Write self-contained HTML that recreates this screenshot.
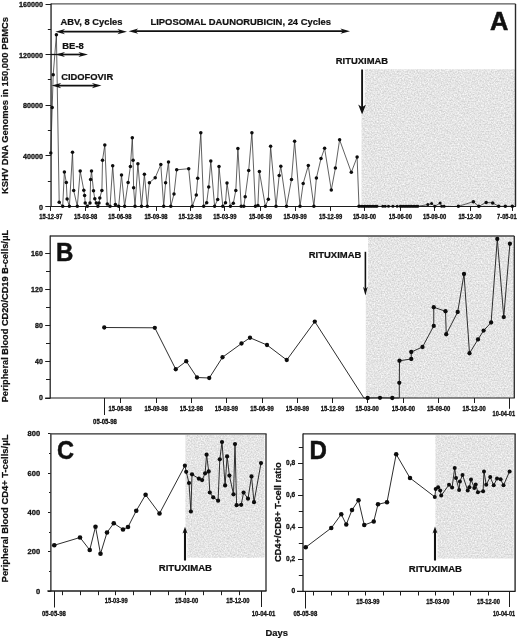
<!DOCTYPE html>
<html><head><meta charset="utf-8"><title>Figure</title>
<style>
html,body{margin:0;padding:0;background:#fff;}
body{width:520px;height:639px;overflow:hidden;font-family:"Liberation Sans",sans-serif;}
svg{display:block;font-family:"Liberation Sans",sans-serif;}
</style></head><body>
<svg style="will-change:transform" width="520" height="639" viewBox="0 0 520 639">
<defs>
<filter id="nz" x="0" y="0" width="1" height="1" color-interpolation-filters="sRGB">
<feTurbulence type="fractalNoise" baseFrequency="0.7" numOctaves="2" seed="7" result="t"/>
<feColorMatrix in="t" type="matrix" values="0.27 0 0 0 0.76  0.27 0 0 0 0.76  0.27 0 0 0 0.76  0 0 0 0 1" result="n"/>
<feComposite in="n" in2="SourceGraphic" operator="in"/>
</filter>
</defs>
<rect width="520" height="639" fill="#ffffff"/>
<rect x="361.50" y="69.20" width="154.00" height="137.25" fill="#e5e5e5" filter="url(#nz)"/>
<path d="M360.5 68.5 H364.7 V104.2 L366.4 104.6 L362.4 114.4 H360.5 Z" fill="#fff"/>
<line x1="51.05" y1="3.90" x2="515.50" y2="3.90" stroke="#585858" stroke-width="1.3"/>
<line x1="515.50" y1="3.90" x2="515.50" y2="206.45" stroke="#2a2a2a" stroke-width="1.4"/>
<line x1="51.05" y1="3.40" x2="51.05" y2="206.95" stroke="#1c1c1c" stroke-width="1.3"/>
<line x1="45.55" y1="206.50" x2="516.00" y2="206.50" stroke="#1c1c1c" stroke-width="1.05"/>
<line x1="45.55" y1="206.50" x2="51.05" y2="206.50" stroke="#1c1c1c" stroke-width="1.0"/>
<text x="42.90" y="209.55" font-size="7.2" font-weight="bold" text-anchor="end" fill="#111" stroke="#111" stroke-width="0.3" textLength="3.98" lengthAdjust="spacingAndGlyphs">0</text>
<line x1="47.85" y1="181.50" x2="51.05" y2="181.50" stroke="#1c1c1c" stroke-width="1.0"/>
<line x1="45.55" y1="155.50" x2="51.05" y2="155.50" stroke="#1c1c1c" stroke-width="1.0"/>
<text x="42.90" y="158.95" font-size="7.2" font-weight="bold" text-anchor="end" fill="#111" stroke="#111" stroke-width="0.3" textLength="19.90" lengthAdjust="spacingAndGlyphs">40000</text>
<line x1="47.85" y1="130.50" x2="51.05" y2="130.50" stroke="#1c1c1c" stroke-width="1.0"/>
<line x1="45.55" y1="105.50" x2="51.05" y2="105.50" stroke="#1c1c1c" stroke-width="1.0"/>
<text x="42.90" y="108.35" font-size="7.2" font-weight="bold" text-anchor="end" fill="#111" stroke="#111" stroke-width="0.3" textLength="19.90" lengthAdjust="spacingAndGlyphs">80000</text>
<line x1="47.85" y1="79.50" x2="51.05" y2="79.50" stroke="#1c1c1c" stroke-width="1.0"/>
<line x1="45.55" y1="54.50" x2="51.05" y2="54.50" stroke="#1c1c1c" stroke-width="1.0"/>
<text x="42.90" y="57.75" font-size="7.2" font-weight="bold" text-anchor="end" fill="#111" stroke="#111" stroke-width="0.3" textLength="23.88" lengthAdjust="spacingAndGlyphs">120000</text>
<line x1="47.85" y1="29.50" x2="51.05" y2="29.50" stroke="#1c1c1c" stroke-width="1.0"/>
<line x1="45.55" y1="4.50" x2="51.05" y2="4.50" stroke="#1c1c1c" stroke-width="1.0"/>
<text x="42.90" y="7.15" font-size="7.2" font-weight="bold" text-anchor="end" fill="#111" stroke="#111" stroke-width="0.3" textLength="23.88" lengthAdjust="spacingAndGlyphs">160000</text>
<line x1="50.50" y1="206.45" x2="50.50" y2="210.95" stroke="#1c1c1c" stroke-width="1.0"/>
<text x="50.80" y="218.80" font-size="6.8" font-weight="bold" text-anchor="middle" fill="#111" stroke="#111" stroke-width="0.3" textLength="23.20" lengthAdjust="spacingAndGlyphs">15-12-97</text>
<line x1="85.50" y1="206.45" x2="85.50" y2="210.95" stroke="#1c1c1c" stroke-width="1.0"/>
<text x="85.70" y="218.80" font-size="6.8" font-weight="bold" text-anchor="middle" fill="#111" stroke="#111" stroke-width="0.3" textLength="23.20" lengthAdjust="spacingAndGlyphs">15-03-98</text>
<line x1="119.50" y1="206.45" x2="119.50" y2="210.95" stroke="#1c1c1c" stroke-width="1.0"/>
<text x="119.90" y="218.80" font-size="6.8" font-weight="bold" text-anchor="middle" fill="#111" stroke="#111" stroke-width="0.3" textLength="23.20" lengthAdjust="spacingAndGlyphs">15-06-98</text>
<line x1="156.50" y1="206.45" x2="156.50" y2="210.95" stroke="#1c1c1c" stroke-width="1.0"/>
<text x="156.00" y="218.80" font-size="6.8" font-weight="bold" text-anchor="middle" fill="#111" stroke="#111" stroke-width="0.3" textLength="23.20" lengthAdjust="spacingAndGlyphs">15-09-98</text>
<line x1="190.50" y1="206.45" x2="190.50" y2="210.95" stroke="#1c1c1c" stroke-width="1.0"/>
<text x="190.20" y="218.80" font-size="6.8" font-weight="bold" text-anchor="middle" fill="#111" stroke="#111" stroke-width="0.3" textLength="23.20" lengthAdjust="spacingAndGlyphs">15-12-98</text>
<line x1="224.50" y1="206.45" x2="224.50" y2="210.95" stroke="#1c1c1c" stroke-width="1.0"/>
<text x="224.90" y="218.80" font-size="6.8" font-weight="bold" text-anchor="middle" fill="#111" stroke="#111" stroke-width="0.3" textLength="23.20" lengthAdjust="spacingAndGlyphs">15-03-99</text>
<line x1="260.50" y1="206.45" x2="260.50" y2="210.95" stroke="#1c1c1c" stroke-width="1.0"/>
<text x="260.50" y="218.80" font-size="6.8" font-weight="bold" text-anchor="middle" fill="#111" stroke="#111" stroke-width="0.3" textLength="23.20" lengthAdjust="spacingAndGlyphs">15-06-99</text>
<line x1="295.50" y1="206.45" x2="295.50" y2="210.95" stroke="#1c1c1c" stroke-width="1.0"/>
<text x="295.20" y="218.80" font-size="6.8" font-weight="bold" text-anchor="middle" fill="#111" stroke="#111" stroke-width="0.3" textLength="23.20" lengthAdjust="spacingAndGlyphs">15-09-99</text>
<line x1="330.50" y1="206.45" x2="330.50" y2="210.95" stroke="#1c1c1c" stroke-width="1.0"/>
<text x="330.60" y="218.80" font-size="6.8" font-weight="bold" text-anchor="middle" fill="#111" stroke="#111" stroke-width="0.3" textLength="23.20" lengthAdjust="spacingAndGlyphs">15-12-99</text>
<line x1="364.50" y1="206.45" x2="364.50" y2="210.95" stroke="#1c1c1c" stroke-width="1.0"/>
<text x="364.50" y="218.80" font-size="6.8" font-weight="bold" text-anchor="middle" fill="#111" stroke="#111" stroke-width="0.3" textLength="23.20" lengthAdjust="spacingAndGlyphs">15-03-00</text>
<line x1="400.50" y1="206.45" x2="400.50" y2="210.95" stroke="#1c1c1c" stroke-width="1.0"/>
<text x="400.40" y="218.80" font-size="6.8" font-weight="bold" text-anchor="middle" fill="#111" stroke="#111" stroke-width="0.3" textLength="23.20" lengthAdjust="spacingAndGlyphs">15-06-00</text>
<line x1="434.50" y1="206.45" x2="434.50" y2="210.95" stroke="#1c1c1c" stroke-width="1.0"/>
<text x="434.60" y="218.80" font-size="6.8" font-weight="bold" text-anchor="middle" fill="#111" stroke="#111" stroke-width="0.3" textLength="23.20" lengthAdjust="spacingAndGlyphs">15-09-00</text>
<line x1="470.50" y1="206.45" x2="470.50" y2="210.95" stroke="#1c1c1c" stroke-width="1.0"/>
<text x="470.00" y="218.80" font-size="6.8" font-weight="bold" text-anchor="middle" fill="#111" stroke="#111" stroke-width="0.3" textLength="23.20" lengthAdjust="spacingAndGlyphs">15-12-00</text>
<line x1="512.50" y1="206.45" x2="512.50" y2="210.95" stroke="#1c1c1c" stroke-width="1.0"/>
<text x="506.90" y="218.80" font-size="6.8" font-weight="bold" text-anchor="middle" fill="#111" stroke="#111" stroke-width="0.3" textLength="19.60" lengthAdjust="spacingAndGlyphs">7-05-01</text>
<polyline points="50.80,152.90 52.20,107.50 53.20,74.80 56.40,34.80 59.20,202.30 62.70,206.35 64.40,171.90 66.30,182.50 67.10,199.00 69.40,206.35 72.50,152.30 73.70,190.60 77.30,206.35 80.20,171.00 83.80,190.20 84.60,195.40 85.20,203.00 87.30,206.35 90.00,203.00 90.60,179.40 91.50,171.00 93.50,190.80 94.80,198.80 96.30,203.00 97.90,206.35 99.00,203.00 99.80,197.90 101.90,190.40 102.50,160.20 104.80,145.00 107.30,204.00 110.00,206.35 112.70,165.80 115.40,204.60 118.70,206.35 121.50,175.00 124.60,206.35 128.10,182.50 130.40,166.50 132.30,137.80 133.10,160.30 133.60,187.70 135.00,206.35 137.90,163.80 141.50,206.35 144.40,174.20 147.30,206.35 149.40,182.70 155.20,177.70 160.80,164.60 163.70,206.35 165.60,182.70 168.50,161.90 170.80,206.35 174.00,194.00 176.70,169.80 188.70,168.70 192.30,206.35 196.30,195.00 197.70,178.30 200.80,132.70 203.70,206.35 206.70,202.70 208.70,186.90 210.80,161.00 214.60,206.35 217.70,199.40 219.00,166.50 222.80,206.35 225.50,202.70 227.00,183.00 230.40,206.35 233.30,203.30 235.80,190.40 237.90,148.50 241.20,206.35 243.80,206.35 245.20,196.70 248.70,170.40 251.90,132.70 255.40,206.35 257.90,205.40 259.40,171.50 265.40,206.35 268.30,199.20 270.60,146.30 276.00,206.35 279.20,175.40 280.80,166.30 286.50,206.35 291.50,179.40 294.60,141.30 300.00,206.35 303.20,183.40 308.30,165.60 313.90,206.35 316.40,178.00 321.00,158.50 324.60,148.30 331.30,190.00 335.40,168.10 339.60,139.80 351.30,172.30 357.10,157.10 359.00,206.35 361.20,206.35 362.80,206.35 364.40,206.35 366.00,206.35 367.60,206.35 369.20,206.35 370.80,206.35 372.40,206.35 374.00,206.35 375.60,206.35 377.00,206.35 382.80,206.35 385.20,206.35 388.50,206.35 392.90,206.35 397.20,206.35 400.30,206.35 401.90,206.35 403.50,206.35 405.10,206.35 406.70,206.35 408.30,206.35 409.90,206.35 411.50,206.35 413.10,206.35 414.70,206.35 416.30,206.35 417.80,206.35 427.80,204.60 431.60,203.50 434.80,206.35 440.10,203.00 441.70,206.35 444.10,206.35" fill="none" stroke="#2e2e2e" stroke-width="0.75" stroke-linejoin="round"/>
<polyline points="458.40,206.35 473.40,201.70 478.80,206.35 486.20,202.40 492.70,202.90 498.70,206.35 505.30,206.35 512.30,206.35" fill="none" stroke="#2e2e2e" stroke-width="0.75" stroke-linejoin="round"/>
<circle cx="50.80" cy="152.90" r="1.75" fill="#0d0d0d"/>
<circle cx="52.20" cy="107.50" r="1.75" fill="#0d0d0d"/>
<circle cx="53.20" cy="74.80" r="1.75" fill="#0d0d0d"/>
<circle cx="56.40" cy="34.80" r="1.75" fill="#0d0d0d"/>
<circle cx="59.20" cy="202.30" r="1.75" fill="#0d0d0d"/>
<circle cx="62.70" cy="206.35" r="1.75" fill="#0d0d0d"/>
<circle cx="64.40" cy="171.90" r="1.75" fill="#0d0d0d"/>
<circle cx="66.30" cy="182.50" r="1.75" fill="#0d0d0d"/>
<circle cx="67.10" cy="199.00" r="1.75" fill="#0d0d0d"/>
<circle cx="69.40" cy="206.35" r="1.75" fill="#0d0d0d"/>
<circle cx="72.50" cy="152.30" r="1.75" fill="#0d0d0d"/>
<circle cx="73.70" cy="190.60" r="1.75" fill="#0d0d0d"/>
<circle cx="77.30" cy="206.35" r="1.75" fill="#0d0d0d"/>
<circle cx="80.20" cy="171.00" r="1.75" fill="#0d0d0d"/>
<circle cx="83.80" cy="190.20" r="1.75" fill="#0d0d0d"/>
<circle cx="84.60" cy="195.40" r="1.75" fill="#0d0d0d"/>
<circle cx="85.20" cy="203.00" r="1.75" fill="#0d0d0d"/>
<circle cx="87.30" cy="206.35" r="1.75" fill="#0d0d0d"/>
<circle cx="90.00" cy="203.00" r="1.75" fill="#0d0d0d"/>
<circle cx="90.60" cy="179.40" r="1.75" fill="#0d0d0d"/>
<circle cx="91.50" cy="171.00" r="1.75" fill="#0d0d0d"/>
<circle cx="93.50" cy="190.80" r="1.75" fill="#0d0d0d"/>
<circle cx="94.80" cy="198.80" r="1.75" fill="#0d0d0d"/>
<circle cx="96.30" cy="203.00" r="1.75" fill="#0d0d0d"/>
<circle cx="97.90" cy="206.35" r="1.75" fill="#0d0d0d"/>
<circle cx="99.00" cy="203.00" r="1.75" fill="#0d0d0d"/>
<circle cx="99.80" cy="197.90" r="1.75" fill="#0d0d0d"/>
<circle cx="101.90" cy="190.40" r="1.75" fill="#0d0d0d"/>
<circle cx="102.50" cy="160.20" r="1.75" fill="#0d0d0d"/>
<circle cx="104.80" cy="145.00" r="1.75" fill="#0d0d0d"/>
<circle cx="107.30" cy="204.00" r="1.75" fill="#0d0d0d"/>
<circle cx="110.00" cy="206.35" r="1.75" fill="#0d0d0d"/>
<circle cx="112.70" cy="165.80" r="1.75" fill="#0d0d0d"/>
<circle cx="115.40" cy="204.60" r="1.75" fill="#0d0d0d"/>
<circle cx="118.70" cy="206.35" r="1.75" fill="#0d0d0d"/>
<circle cx="121.50" cy="175.00" r="1.75" fill="#0d0d0d"/>
<circle cx="124.60" cy="206.35" r="1.75" fill="#0d0d0d"/>
<circle cx="128.10" cy="182.50" r="1.75" fill="#0d0d0d"/>
<circle cx="130.40" cy="166.50" r="1.75" fill="#0d0d0d"/>
<circle cx="132.30" cy="137.80" r="1.75" fill="#0d0d0d"/>
<circle cx="133.10" cy="160.30" r="1.75" fill="#0d0d0d"/>
<circle cx="133.60" cy="187.70" r="1.75" fill="#0d0d0d"/>
<circle cx="135.00" cy="206.35" r="1.75" fill="#0d0d0d"/>
<circle cx="137.90" cy="163.80" r="1.75" fill="#0d0d0d"/>
<circle cx="141.50" cy="206.35" r="1.75" fill="#0d0d0d"/>
<circle cx="144.40" cy="174.20" r="1.75" fill="#0d0d0d"/>
<circle cx="147.30" cy="206.35" r="1.75" fill="#0d0d0d"/>
<circle cx="149.40" cy="182.70" r="1.75" fill="#0d0d0d"/>
<circle cx="155.20" cy="177.70" r="1.75" fill="#0d0d0d"/>
<circle cx="160.80" cy="164.60" r="1.75" fill="#0d0d0d"/>
<circle cx="163.70" cy="206.35" r="1.75" fill="#0d0d0d"/>
<circle cx="165.60" cy="182.70" r="1.75" fill="#0d0d0d"/>
<circle cx="168.50" cy="161.90" r="1.75" fill="#0d0d0d"/>
<circle cx="170.80" cy="206.35" r="1.75" fill="#0d0d0d"/>
<circle cx="174.00" cy="194.00" r="1.75" fill="#0d0d0d"/>
<circle cx="176.70" cy="169.80" r="1.75" fill="#0d0d0d"/>
<circle cx="188.70" cy="168.70" r="1.75" fill="#0d0d0d"/>
<circle cx="192.30" cy="206.35" r="1.75" fill="#0d0d0d"/>
<circle cx="196.30" cy="195.00" r="1.75" fill="#0d0d0d"/>
<circle cx="197.70" cy="178.30" r="1.75" fill="#0d0d0d"/>
<circle cx="200.80" cy="132.70" r="1.75" fill="#0d0d0d"/>
<circle cx="203.70" cy="206.35" r="1.75" fill="#0d0d0d"/>
<circle cx="206.70" cy="202.70" r="1.75" fill="#0d0d0d"/>
<circle cx="208.70" cy="186.90" r="1.75" fill="#0d0d0d"/>
<circle cx="210.80" cy="161.00" r="1.75" fill="#0d0d0d"/>
<circle cx="214.60" cy="206.35" r="1.75" fill="#0d0d0d"/>
<circle cx="217.70" cy="199.40" r="1.75" fill="#0d0d0d"/>
<circle cx="219.00" cy="166.50" r="1.75" fill="#0d0d0d"/>
<circle cx="222.80" cy="206.35" r="1.75" fill="#0d0d0d"/>
<circle cx="225.50" cy="202.70" r="1.75" fill="#0d0d0d"/>
<circle cx="227.00" cy="183.00" r="1.75" fill="#0d0d0d"/>
<circle cx="230.40" cy="206.35" r="1.75" fill="#0d0d0d"/>
<circle cx="233.30" cy="203.30" r="1.75" fill="#0d0d0d"/>
<circle cx="235.80" cy="190.40" r="1.75" fill="#0d0d0d"/>
<circle cx="237.90" cy="148.50" r="1.75" fill="#0d0d0d"/>
<circle cx="241.20" cy="206.35" r="1.75" fill="#0d0d0d"/>
<circle cx="243.80" cy="206.35" r="1.75" fill="#0d0d0d"/>
<circle cx="245.20" cy="196.70" r="1.75" fill="#0d0d0d"/>
<circle cx="248.70" cy="170.40" r="1.75" fill="#0d0d0d"/>
<circle cx="251.90" cy="132.70" r="1.75" fill="#0d0d0d"/>
<circle cx="255.40" cy="206.35" r="1.75" fill="#0d0d0d"/>
<circle cx="257.90" cy="205.40" r="1.75" fill="#0d0d0d"/>
<circle cx="259.40" cy="171.50" r="1.75" fill="#0d0d0d"/>
<circle cx="265.40" cy="206.35" r="1.75" fill="#0d0d0d"/>
<circle cx="268.30" cy="199.20" r="1.75" fill="#0d0d0d"/>
<circle cx="270.60" cy="146.30" r="1.75" fill="#0d0d0d"/>
<circle cx="276.00" cy="206.35" r="1.75" fill="#0d0d0d"/>
<circle cx="279.20" cy="175.40" r="1.75" fill="#0d0d0d"/>
<circle cx="280.80" cy="166.30" r="1.75" fill="#0d0d0d"/>
<circle cx="286.50" cy="206.35" r="1.75" fill="#0d0d0d"/>
<circle cx="291.50" cy="179.40" r="1.75" fill="#0d0d0d"/>
<circle cx="294.60" cy="141.30" r="1.75" fill="#0d0d0d"/>
<circle cx="300.00" cy="206.35" r="1.75" fill="#0d0d0d"/>
<circle cx="303.20" cy="183.40" r="1.75" fill="#0d0d0d"/>
<circle cx="308.30" cy="165.60" r="1.75" fill="#0d0d0d"/>
<circle cx="313.90" cy="206.35" r="1.75" fill="#0d0d0d"/>
<circle cx="316.40" cy="178.00" r="1.75" fill="#0d0d0d"/>
<circle cx="321.00" cy="158.50" r="1.75" fill="#0d0d0d"/>
<circle cx="324.60" cy="148.30" r="1.75" fill="#0d0d0d"/>
<circle cx="331.30" cy="190.00" r="1.75" fill="#0d0d0d"/>
<circle cx="335.40" cy="168.10" r="1.75" fill="#0d0d0d"/>
<circle cx="339.60" cy="139.80" r="1.75" fill="#0d0d0d"/>
<circle cx="351.30" cy="172.30" r="1.75" fill="#0d0d0d"/>
<circle cx="357.10" cy="157.10" r="1.75" fill="#0d0d0d"/>
<circle cx="359.00" cy="206.35" r="1.75" fill="#0d0d0d"/>
<circle cx="361.20" cy="206.35" r="1.5" fill="#0d0d0d"/>
<circle cx="362.80" cy="206.35" r="1.5" fill="#0d0d0d"/>
<circle cx="364.40" cy="206.35" r="1.5" fill="#0d0d0d"/>
<circle cx="366.00" cy="206.35" r="1.5" fill="#0d0d0d"/>
<circle cx="367.60" cy="206.35" r="1.5" fill="#0d0d0d"/>
<circle cx="369.20" cy="206.35" r="1.5" fill="#0d0d0d"/>
<circle cx="370.80" cy="206.35" r="1.5" fill="#0d0d0d"/>
<circle cx="372.40" cy="206.35" r="1.5" fill="#0d0d0d"/>
<circle cx="374.00" cy="206.35" r="1.5" fill="#0d0d0d"/>
<circle cx="375.60" cy="206.35" r="1.5" fill="#0d0d0d"/>
<circle cx="377.00" cy="206.35" r="1.5" fill="#0d0d0d"/>
<circle cx="382.80" cy="206.35" r="1.5" fill="#0d0d0d"/>
<circle cx="385.20" cy="206.35" r="1.5" fill="#0d0d0d"/>
<circle cx="388.50" cy="206.35" r="1.5" fill="#0d0d0d"/>
<circle cx="392.90" cy="206.35" r="1.5" fill="#0d0d0d"/>
<circle cx="397.20" cy="206.35" r="1.5" fill="#0d0d0d"/>
<circle cx="400.30" cy="206.35" r="1.5" fill="#0d0d0d"/>
<circle cx="401.90" cy="206.35" r="1.5" fill="#0d0d0d"/>
<circle cx="403.50" cy="206.35" r="1.5" fill="#0d0d0d"/>
<circle cx="405.10" cy="206.35" r="1.5" fill="#0d0d0d"/>
<circle cx="406.70" cy="206.35" r="1.5" fill="#0d0d0d"/>
<circle cx="408.30" cy="206.35" r="1.5" fill="#0d0d0d"/>
<circle cx="409.90" cy="206.35" r="1.5" fill="#0d0d0d"/>
<circle cx="411.50" cy="206.35" r="1.5" fill="#0d0d0d"/>
<circle cx="413.10" cy="206.35" r="1.5" fill="#0d0d0d"/>
<circle cx="414.70" cy="206.35" r="1.5" fill="#0d0d0d"/>
<circle cx="416.30" cy="206.35" r="1.5" fill="#0d0d0d"/>
<circle cx="417.80" cy="206.35" r="1.5" fill="#0d0d0d"/>
<circle cx="427.80" cy="204.60" r="1.5" fill="#0d0d0d"/>
<circle cx="431.60" cy="203.50" r="1.5" fill="#0d0d0d"/>
<circle cx="434.80" cy="206.35" r="1.5" fill="#0d0d0d"/>
<circle cx="440.10" cy="203.00" r="1.5" fill="#0d0d0d"/>
<circle cx="441.70" cy="206.35" r="1.5" fill="#0d0d0d"/>
<circle cx="444.10" cy="206.35" r="1.5" fill="#0d0d0d"/>
<circle cx="458.40" cy="206.35" r="1.75" fill="#0d0d0d"/>
<circle cx="473.40" cy="201.70" r="1.75" fill="#0d0d0d"/>
<circle cx="478.80" cy="206.35" r="1.75" fill="#0d0d0d"/>
<circle cx="486.20" cy="202.40" r="1.75" fill="#0d0d0d"/>
<circle cx="492.70" cy="202.90" r="1.75" fill="#0d0d0d"/>
<circle cx="498.70" cy="206.35" r="1.75" fill="#0d0d0d"/>
<circle cx="505.30" cy="206.35" r="1.75" fill="#0d0d0d"/>
<circle cx="512.30" cy="206.35" r="1.75" fill="#0d0d0d"/>
<text x="60.40" y="24.70" font-size="9.4" font-weight="bold" text-anchor="start" fill="#111" stroke="#111" stroke-width="0.22" textLength="62.00" lengthAdjust="spacingAndGlyphs">ABV, 8 Cycles</text>
<line x1="61.16" y1="31.70" x2="121.24" y2="31.70" stroke="#111" stroke-width="1.7"/>
<path d="M55.40 31.70 L65.00 29.10 L62.31 31.70 L65.00 34.30 Z" fill="#111"/>
<path d="M127.00 31.70 L117.40 29.10 L120.09 31.70 L117.40 34.30 Z" fill="#111"/>
<text x="62.30" y="49.40" font-size="9.4" font-weight="bold" text-anchor="start" fill="#111" stroke="#111" stroke-width="0.22" textLength="21.50" lengthAdjust="spacingAndGlyphs">BE-8</text>
<line x1="61.16" y1="54.50" x2="82.24" y2="54.50" stroke="#111" stroke-width="1.7"/>
<path d="M55.40 54.50 L65.00 51.90 L62.31 54.50 L65.00 57.10 Z" fill="#111"/>
<path d="M88.00 54.50 L78.40 51.90 L81.09 54.50 L78.40 57.10 Z" fill="#111"/>
<line x1="50.80" y1="54.50" x2="60.00" y2="54.50" stroke="#111" stroke-width="1.3"/>
<text x="61.20" y="80.30" font-size="9.4" font-weight="bold" text-anchor="start" fill="#111" stroke="#111" stroke-width="0.22" textLength="52.00" lengthAdjust="spacingAndGlyphs">CIDOFOVIR</text>
<line x1="57.36" y1="85.60" x2="95.74" y2="85.60" stroke="#111" stroke-width="1.7"/>
<path d="M51.60 85.60 L61.20 83.00 L58.51 85.60 L61.20 88.20 Z" fill="#111"/>
<path d="M101.50 85.60 L91.90 83.00 L94.59 85.60 L91.90 88.20 Z" fill="#111"/>
<line x1="134.36" y1="31.20" x2="344.24" y2="31.20" stroke="#111" stroke-width="1.7"/>
<path d="M128.60 31.20 L138.20 28.60 L135.51 31.20 L138.20 33.80 Z" fill="#111"/>
<path d="M350.00 31.20 L340.40 28.60 L343.09 31.20 L340.40 33.80 Z" fill="#111"/>
<text x="150.50" y="24.60" font-size="9.4" font-weight="bold" text-anchor="start" fill="#111" stroke="#111" stroke-width="0.22" textLength="180.50" lengthAdjust="spacingAndGlyphs">LIPOSOMAL DAUNORUBICIN, 24 Cycles</text>
<text x="335.80" y="64.40" font-size="9.4" font-weight="bold" text-anchor="start" fill="#111" stroke="#111" stroke-width="0.22" textLength="52.30" lengthAdjust="spacingAndGlyphs">RITUXIMAB</text>
<line x1="362.10" y1="69.50" x2="362.10" y2="108.46" stroke="#111" stroke-width="1.9"/>
<path d="M362.10 114.40 L358.20 104.50 L362.10 107.27 L366.00 104.50 Z" fill="#111"/>
<text x="499.10" y="29.50" font-size="25.0" font-weight="bold" text-anchor="middle" fill="#111" stroke="#111" stroke-width="0.5" textLength="18.40" lengthAdjust="spacingAndGlyphs">A</text>
<text x="8.00" y="105.50" font-size="9.3" font-weight="bold" text-anchor="middle" fill="#111" stroke="#111" stroke-width="0.22" textLength="177.00" lengthAdjust="spacingAndGlyphs" transform="rotate(-90 8.00 105.50)">KSHV DNA Genomes in 150,000 PBMCs</text>
<rect x="365.80" y="236.00" width="148.50" height="162.00" fill="#e5e5e5" filter="url(#nz)"/>
<path d="M364.5 236.8 H368.1 V287.0 L365.6 296.0 H364.5 Z" fill="#fff"/>
<line x1="50.20" y1="236.00" x2="514.30" y2="236.00" stroke="#444" stroke-width="1.3"/>
<line x1="514.30" y1="236.00" x2="514.30" y2="398.00" stroke="#2a2a2a" stroke-width="1.3"/>
<line x1="50.20" y1="235.50" x2="50.20" y2="398.50" stroke="#1c1c1c" stroke-width="1.25"/>
<line x1="45.20" y1="398.00" x2="514.80" y2="398.00" stroke="#1c1c1c" stroke-width="1.15"/>
<line x1="45.20" y1="398.50" x2="50.20" y2="398.50" stroke="#1c1c1c" stroke-width="1.0"/>
<text x="42.80" y="400.10" font-size="7.2" font-weight="bold" text-anchor="end" fill="#111" stroke="#111" stroke-width="0.3" textLength="3.90" lengthAdjust="spacingAndGlyphs">0</text>
<line x1="46.00" y1="379.50" x2="50.20" y2="379.50" stroke="#1c1c1c" stroke-width="1.0"/>
<line x1="45.20" y1="361.50" x2="50.20" y2="361.50" stroke="#1c1c1c" stroke-width="1.0"/>
<text x="42.80" y="364.04" font-size="7.2" font-weight="bold" text-anchor="end" fill="#111" stroke="#111" stroke-width="0.3" textLength="7.80" lengthAdjust="spacingAndGlyphs">40</text>
<line x1="46.00" y1="343.50" x2="50.20" y2="343.50" stroke="#1c1c1c" stroke-width="1.0"/>
<line x1="45.20" y1="325.50" x2="50.20" y2="325.50" stroke="#1c1c1c" stroke-width="1.0"/>
<text x="42.80" y="327.98" font-size="7.2" font-weight="bold" text-anchor="end" fill="#111" stroke="#111" stroke-width="0.3" textLength="7.80" lengthAdjust="spacingAndGlyphs">80</text>
<line x1="46.00" y1="307.50" x2="50.20" y2="307.50" stroke="#1c1c1c" stroke-width="1.0"/>
<line x1="45.20" y1="289.50" x2="50.20" y2="289.50" stroke="#1c1c1c" stroke-width="1.0"/>
<text x="42.80" y="291.92" font-size="7.2" font-weight="bold" text-anchor="end" fill="#111" stroke="#111" stroke-width="0.3" textLength="11.70" lengthAdjust="spacingAndGlyphs">120</text>
<line x1="46.00" y1="271.50" x2="50.20" y2="271.50" stroke="#1c1c1c" stroke-width="1.0"/>
<line x1="45.20" y1="253.50" x2="50.20" y2="253.50" stroke="#1c1c1c" stroke-width="1.0"/>
<text x="42.80" y="255.86" font-size="7.2" font-weight="bold" text-anchor="end" fill="#111" stroke="#111" stroke-width="0.3" textLength="11.70" lengthAdjust="spacingAndGlyphs">160</text>
<line x1="120.50" y1="398.00" x2="120.50" y2="403.00" stroke="#1c1c1c" stroke-width="1.0"/>
<text x="120.20" y="411.20" font-size="6.8" font-weight="bold" text-anchor="middle" fill="#111" stroke="#111" stroke-width="0.3" textLength="23.30" lengthAdjust="spacingAndGlyphs">15-06-98</text>
<line x1="156.50" y1="398.00" x2="156.50" y2="403.00" stroke="#1c1c1c" stroke-width="1.0"/>
<text x="156.20" y="411.20" font-size="6.8" font-weight="bold" text-anchor="middle" fill="#111" stroke="#111" stroke-width="0.3" textLength="23.30" lengthAdjust="spacingAndGlyphs">15-09-98</text>
<line x1="191.50" y1="398.00" x2="191.50" y2="403.00" stroke="#1c1c1c" stroke-width="1.0"/>
<text x="191.30" y="411.20" font-size="6.8" font-weight="bold" text-anchor="middle" fill="#111" stroke="#111" stroke-width="0.3" textLength="23.30" lengthAdjust="spacingAndGlyphs">15-12-98</text>
<line x1="226.50" y1="398.00" x2="226.50" y2="403.00" stroke="#1c1c1c" stroke-width="1.0"/>
<text x="226.40" y="411.20" font-size="6.8" font-weight="bold" text-anchor="middle" fill="#111" stroke="#111" stroke-width="0.3" textLength="23.30" lengthAdjust="spacingAndGlyphs">15-03-99</text>
<line x1="262.50" y1="398.00" x2="262.50" y2="403.00" stroke="#1c1c1c" stroke-width="1.0"/>
<text x="262.00" y="411.20" font-size="6.8" font-weight="bold" text-anchor="middle" fill="#111" stroke="#111" stroke-width="0.3" textLength="23.30" lengthAdjust="spacingAndGlyphs">15-06-99</text>
<line x1="297.50" y1="398.00" x2="297.50" y2="403.00" stroke="#1c1c1c" stroke-width="1.0"/>
<text x="297.40" y="411.20" font-size="6.8" font-weight="bold" text-anchor="middle" fill="#111" stroke="#111" stroke-width="0.3" textLength="23.30" lengthAdjust="spacingAndGlyphs">15-09-99</text>
<line x1="332.50" y1="398.00" x2="332.50" y2="403.00" stroke="#1c1c1c" stroke-width="1.0"/>
<text x="332.50" y="411.20" font-size="6.8" font-weight="bold" text-anchor="middle" fill="#111" stroke="#111" stroke-width="0.3" textLength="23.30" lengthAdjust="spacingAndGlyphs">15-12-99</text>
<line x1="367.50" y1="398.00" x2="367.50" y2="403.00" stroke="#1c1c1c" stroke-width="1.0"/>
<text x="367.20" y="411.20" font-size="6.8" font-weight="bold" text-anchor="middle" fill="#111" stroke="#111" stroke-width="0.3" textLength="23.30" lengthAdjust="spacingAndGlyphs">15-03-00</text>
<line x1="403.50" y1="398.00" x2="403.50" y2="403.00" stroke="#1c1c1c" stroke-width="1.0"/>
<text x="403.30" y="411.20" font-size="6.8" font-weight="bold" text-anchor="middle" fill="#111" stroke="#111" stroke-width="0.3" textLength="23.30" lengthAdjust="spacingAndGlyphs">15-06-00</text>
<line x1="438.50" y1="398.00" x2="438.50" y2="403.00" stroke="#1c1c1c" stroke-width="1.0"/>
<text x="438.70" y="411.20" font-size="6.8" font-weight="bold" text-anchor="middle" fill="#111" stroke="#111" stroke-width="0.3" textLength="23.30" lengthAdjust="spacingAndGlyphs">15-09-00</text>
<line x1="474.50" y1="398.00" x2="474.50" y2="403.00" stroke="#1c1c1c" stroke-width="1.0"/>
<text x="474.20" y="411.20" font-size="6.8" font-weight="bold" text-anchor="middle" fill="#111" stroke="#111" stroke-width="0.3" textLength="23.30" lengthAdjust="spacingAndGlyphs">15-12-00</text>
<line x1="104.50" y1="398.00" x2="104.50" y2="415.00" stroke="#1c1c1c" stroke-width="1.0"/>
<text x="105.00" y="423.80" font-size="6.8" font-weight="bold" text-anchor="middle" fill="#111" stroke="#111" stroke-width="0.3" textLength="23.80" lengthAdjust="spacingAndGlyphs">05-05-98</text>
<line x1="509.50" y1="398.00" x2="509.50" y2="408.80" stroke="#1c1c1c" stroke-width="1.0"/>
<text x="503.80" y="416.40" font-size="6.8" font-weight="bold" text-anchor="middle" fill="#111" stroke="#111" stroke-width="0.3" textLength="22.60" lengthAdjust="spacingAndGlyphs">10-04-01</text>
<polyline points="104.25,327.50 154.80,327.80 175.75,369.25 186.25,361.25 197.00,377.50 209.25,378.00 222.50,357.25 241.50,343.50 250.00,337.75 267.00,345.00 286.75,360.00 314.80,321.60 363.90,398.00 367.70,398.00 380.00,397.80 392.30,398.00 399.30,398.00 399.30,382.80 399.50,360.75 411.25,359.00 411.25,352.00 422.50,347.00 433.75,325.90 433.75,307.25 445.50,311.25 446.25,334.25 457.70,312.00 464.00,274.00 469.50,353.25 478.00,339.40 483.60,330.60 491.10,322.50 497.30,239.00 503.75,317.10 509.90,243.75" fill="none" stroke="#2e2e2e" stroke-width="1.0" stroke-linejoin="round"/>
<circle cx="104.25" cy="327.50" r="2.15" fill="#0d0d0d"/>
<circle cx="154.80" cy="327.80" r="2.15" fill="#0d0d0d"/>
<circle cx="175.75" cy="369.25" r="2.15" fill="#0d0d0d"/>
<circle cx="186.25" cy="361.25" r="2.15" fill="#0d0d0d"/>
<circle cx="197.00" cy="377.50" r="2.15" fill="#0d0d0d"/>
<circle cx="209.25" cy="378.00" r="2.15" fill="#0d0d0d"/>
<circle cx="222.50" cy="357.25" r="2.15" fill="#0d0d0d"/>
<circle cx="241.50" cy="343.50" r="2.15" fill="#0d0d0d"/>
<circle cx="250.00" cy="337.75" r="2.15" fill="#0d0d0d"/>
<circle cx="267.00" cy="345.00" r="2.15" fill="#0d0d0d"/>
<circle cx="286.75" cy="360.00" r="2.15" fill="#0d0d0d"/>
<circle cx="314.80" cy="321.60" r="2.15" fill="#0d0d0d"/>
<circle cx="367.70" cy="398.00" r="2.15" fill="#0d0d0d"/>
<circle cx="380.00" cy="397.80" r="2.15" fill="#0d0d0d"/>
<circle cx="392.30" cy="398.00" r="2.15" fill="#0d0d0d"/>
<circle cx="399.30" cy="382.80" r="2.15" fill="#0d0d0d"/>
<circle cx="399.50" cy="360.75" r="2.15" fill="#0d0d0d"/>
<circle cx="411.25" cy="359.00" r="2.15" fill="#0d0d0d"/>
<circle cx="411.25" cy="352.00" r="2.15" fill="#0d0d0d"/>
<circle cx="422.50" cy="347.00" r="2.15" fill="#0d0d0d"/>
<circle cx="433.75" cy="325.90" r="2.15" fill="#0d0d0d"/>
<circle cx="433.75" cy="307.25" r="2.15" fill="#0d0d0d"/>
<circle cx="445.50" cy="311.25" r="2.15" fill="#0d0d0d"/>
<circle cx="446.25" cy="334.25" r="2.15" fill="#0d0d0d"/>
<circle cx="457.70" cy="312.00" r="2.15" fill="#0d0d0d"/>
<circle cx="464.00" cy="274.00" r="2.15" fill="#0d0d0d"/>
<circle cx="469.50" cy="353.25" r="2.15" fill="#0d0d0d"/>
<circle cx="478.00" cy="339.40" r="2.15" fill="#0d0d0d"/>
<circle cx="483.60" cy="330.60" r="2.15" fill="#0d0d0d"/>
<circle cx="491.10" cy="322.50" r="2.15" fill="#0d0d0d"/>
<circle cx="497.30" cy="239.00" r="2.15" fill="#0d0d0d"/>
<circle cx="503.75" cy="317.10" r="2.15" fill="#0d0d0d"/>
<circle cx="509.90" cy="243.75" r="2.15" fill="#0d0d0d"/>
<text x="308.80" y="257.60" font-size="9.4" font-weight="bold" text-anchor="start" fill="#111" stroke="#111" stroke-width="0.22" textLength="52.50" lengthAdjust="spacingAndGlyphs">RITUXIMAB</text>
<line x1="365.40" y1="251.80" x2="365.40" y2="290.32" stroke="#111" stroke-width="1.6"/>
<path d="M365.40 295.60 L363.00 286.80 L365.40 289.26 L367.80 286.80 Z" fill="#111"/>
<text x="56.00" y="261.00" font-size="25" font-weight="bold" text-anchor="start" fill="#111" stroke="#111" stroke-width="0.5" textLength="17.40" lengthAdjust="spacingAndGlyphs">B</text>
<text x="7.80" y="316.10" font-size="9.3" font-weight="bold" text-anchor="middle" fill="#111" stroke="#111" stroke-width="0.22" textLength="172.50" lengthAdjust="spacingAndGlyphs" transform="rotate(-90 7.80 316.10)">Peripheral Blood CD20/CD19 B-cells/μL</text>
<rect x="185.40" y="435.00" width="79.10" height="122.80" fill="#e5e5e5" filter="url(#nz)"/>
<path d="M184 558.5 V527.5 L185.2 526.5 L187.4 533 V558.5 Z" fill="#fff"/>
<line x1="50.60" y1="433.90" x2="266.60" y2="433.90" stroke="#2e2e2e" stroke-width="1.4"/>
<line x1="266.00" y1="433.90" x2="266.00" y2="591.00" stroke="#3a3a3a" stroke-width="1.4"/>
<line x1="50.85" y1="433.40" x2="50.85" y2="591.50" stroke="#4a4a4a" stroke-width="1.6"/>
<line x1="47.40" y1="591.00" x2="266.50" y2="591.00" stroke="#1c1c1c" stroke-width="1.3"/>
<line x1="48.00" y1="591.50" x2="50.60" y2="591.50" stroke="#1c1c1c" stroke-width="1.0"/>
<text x="40.20" y="593.50" font-size="7.6" font-weight="bold" text-anchor="end" fill="#111" stroke="#111" stroke-width="0.3" textLength="4.20" lengthAdjust="spacingAndGlyphs">0</text>
<line x1="49.00" y1="571.50" x2="50.60" y2="571.50" stroke="#1c1c1c" stroke-width="1.0"/>
<line x1="48.00" y1="551.50" x2="50.60" y2="551.50" stroke="#1c1c1c" stroke-width="1.0"/>
<text x="40.20" y="554.22" font-size="7.6" font-weight="bold" text-anchor="end" fill="#111" stroke="#111" stroke-width="0.3" textLength="12.60" lengthAdjust="spacingAndGlyphs">200</text>
<line x1="49.00" y1="532.50" x2="50.60" y2="532.50" stroke="#1c1c1c" stroke-width="1.0"/>
<line x1="48.00" y1="512.50" x2="50.60" y2="512.50" stroke="#1c1c1c" stroke-width="1.0"/>
<text x="40.20" y="514.94" font-size="7.6" font-weight="bold" text-anchor="end" fill="#111" stroke="#111" stroke-width="0.3" textLength="12.60" lengthAdjust="spacingAndGlyphs">400</text>
<line x1="49.00" y1="492.50" x2="50.60" y2="492.50" stroke="#1c1c1c" stroke-width="1.0"/>
<line x1="48.00" y1="473.50" x2="50.60" y2="473.50" stroke="#1c1c1c" stroke-width="1.0"/>
<text x="40.20" y="475.66" font-size="7.6" font-weight="bold" text-anchor="end" fill="#111" stroke="#111" stroke-width="0.3" textLength="12.60" lengthAdjust="spacingAndGlyphs">600</text>
<line x1="49.00" y1="453.50" x2="50.60" y2="453.50" stroke="#1c1c1c" stroke-width="1.0"/>
<line x1="48.00" y1="433.50" x2="50.60" y2="433.50" stroke="#1c1c1c" stroke-width="1.0"/>
<text x="40.20" y="436.38" font-size="7.6" font-weight="bold" text-anchor="end" fill="#111" stroke="#111" stroke-width="0.3" textLength="12.60" lengthAdjust="spacingAndGlyphs">800</text>
<line x1="62.50" y1="591.00" x2="62.50" y2="595.20" stroke="#1c1c1c" stroke-width="1.0"/>
<line x1="80.50" y1="591.00" x2="80.50" y2="595.20" stroke="#1c1c1c" stroke-width="1.0"/>
<line x1="98.50" y1="591.00" x2="98.50" y2="595.20" stroke="#1c1c1c" stroke-width="1.0"/>
<line x1="115.50" y1="591.00" x2="115.50" y2="595.20" stroke="#1c1c1c" stroke-width="1.0"/>
<line x1="133.50" y1="591.00" x2="133.50" y2="595.20" stroke="#1c1c1c" stroke-width="1.0"/>
<line x1="150.50" y1="591.00" x2="150.50" y2="595.20" stroke="#1c1c1c" stroke-width="1.0"/>
<line x1="168.50" y1="591.00" x2="168.50" y2="595.20" stroke="#1c1c1c" stroke-width="1.0"/>
<line x1="185.50" y1="591.00" x2="185.50" y2="595.20" stroke="#1c1c1c" stroke-width="1.0"/>
<line x1="203.50" y1="591.00" x2="203.50" y2="595.20" stroke="#1c1c1c" stroke-width="1.0"/>
<line x1="221.50" y1="591.00" x2="221.50" y2="595.20" stroke="#1c1c1c" stroke-width="1.0"/>
<line x1="239.50" y1="591.00" x2="239.50" y2="595.20" stroke="#1c1c1c" stroke-width="1.0"/>
<line x1="54.50" y1="591.00" x2="54.50" y2="607.50" stroke="#1c1c1c" stroke-width="1.0"/>
<line x1="261.50" y1="591.00" x2="261.50" y2="607.00" stroke="#1c1c1c" stroke-width="1.0"/>
<text x="116.20" y="603.30" font-size="6.8" font-weight="bold" text-anchor="middle" fill="#111" stroke="#111" stroke-width="0.3" textLength="22.80" lengthAdjust="spacingAndGlyphs">15-03-99</text>
<text x="186.60" y="603.10" font-size="6.8" font-weight="bold" text-anchor="middle" fill="#111" stroke="#111" stroke-width="0.3" textLength="23.20" lengthAdjust="spacingAndGlyphs">15-03-00</text>
<text x="237.90" y="603.10" font-size="6.8" font-weight="bold" text-anchor="middle" fill="#111" stroke="#111" stroke-width="0.3" textLength="23.20" lengthAdjust="spacingAndGlyphs">15-12-00</text>
<text x="53.90" y="615.60" font-size="6.8" font-weight="bold" text-anchor="middle" fill="#111" stroke="#111" stroke-width="0.3" textLength="23.70" lengthAdjust="spacingAndGlyphs">05-05-98</text>
<text x="263.50" y="615.90" font-size="6.8" font-weight="bold" text-anchor="middle" fill="#111" stroke="#111" stroke-width="0.3" textLength="23.60" lengthAdjust="spacingAndGlyphs">10-04-01</text>
<polyline points="54.25,545.25 80.00,537.50 89.75,550.00 95.50,526.75 100.50,553.75 107.00,532.50 113.75,523.25 123.00,529.50 128.00,527.00 136.25,510.75 145.60,494.75 159.50,513.50 184.90,465.70 186.20,471.80 189.00,483.00 190.90,511.50 192.00,474.30 198.90,478.70 202.10,480.10 205.10,473.30 206.60,454.70 208.70,471.40 209.80,492.50 213.20,497.30 218.10,500.70 219.80,459.30 222.00,442.00 225.10,485.40 227.10,456.40 229.40,475.60 233.50,494.30 235.00,444.10 236.60,505.20 241.20,504.80 243.60,492.50 248.00,498.70 251.50,476.40 254.00,502.20 261.00,463.10" fill="none" stroke="#2e2e2e" stroke-width="1.0" stroke-linejoin="round"/>
<circle cx="54.25" cy="545.25" r="2.3" fill="#0d0d0d"/>
<circle cx="80.00" cy="537.50" r="2.3" fill="#0d0d0d"/>
<circle cx="89.75" cy="550.00" r="2.3" fill="#0d0d0d"/>
<circle cx="95.50" cy="526.75" r="2.3" fill="#0d0d0d"/>
<circle cx="100.50" cy="553.75" r="2.3" fill="#0d0d0d"/>
<circle cx="107.00" cy="532.50" r="2.3" fill="#0d0d0d"/>
<circle cx="113.75" cy="523.25" r="2.3" fill="#0d0d0d"/>
<circle cx="123.00" cy="529.50" r="2.3" fill="#0d0d0d"/>
<circle cx="128.00" cy="527.00" r="2.3" fill="#0d0d0d"/>
<circle cx="136.25" cy="510.75" r="2.3" fill="#0d0d0d"/>
<circle cx="145.60" cy="494.75" r="2.3" fill="#0d0d0d"/>
<circle cx="159.50" cy="513.50" r="2.3" fill="#0d0d0d"/>
<circle cx="184.90" cy="465.70" r="2.1" fill="#0d0d0d"/>
<circle cx="186.20" cy="471.80" r="2.1" fill="#0d0d0d"/>
<circle cx="189.00" cy="483.00" r="2.1" fill="#0d0d0d"/>
<circle cx="190.90" cy="511.50" r="2.1" fill="#0d0d0d"/>
<circle cx="192.00" cy="474.30" r="2.1" fill="#0d0d0d"/>
<circle cx="198.90" cy="478.70" r="2.1" fill="#0d0d0d"/>
<circle cx="202.10" cy="480.10" r="2.1" fill="#0d0d0d"/>
<circle cx="205.10" cy="473.30" r="2.1" fill="#0d0d0d"/>
<circle cx="206.60" cy="454.70" r="2.1" fill="#0d0d0d"/>
<circle cx="208.70" cy="471.40" r="2.1" fill="#0d0d0d"/>
<circle cx="209.80" cy="492.50" r="2.1" fill="#0d0d0d"/>
<circle cx="213.20" cy="497.30" r="2.1" fill="#0d0d0d"/>
<circle cx="218.10" cy="500.70" r="2.1" fill="#0d0d0d"/>
<circle cx="219.80" cy="459.30" r="2.1" fill="#0d0d0d"/>
<circle cx="222.00" cy="442.00" r="2.1" fill="#0d0d0d"/>
<circle cx="225.10" cy="485.40" r="2.1" fill="#0d0d0d"/>
<circle cx="227.10" cy="456.40" r="2.1" fill="#0d0d0d"/>
<circle cx="229.40" cy="475.60" r="2.1" fill="#0d0d0d"/>
<circle cx="233.50" cy="494.30" r="2.1" fill="#0d0d0d"/>
<circle cx="235.00" cy="444.10" r="2.1" fill="#0d0d0d"/>
<circle cx="236.60" cy="505.20" r="2.1" fill="#0d0d0d"/>
<circle cx="241.20" cy="504.80" r="2.1" fill="#0d0d0d"/>
<circle cx="243.60" cy="492.50" r="2.1" fill="#0d0d0d"/>
<circle cx="248.00" cy="498.70" r="2.1" fill="#0d0d0d"/>
<circle cx="251.50" cy="476.40" r="2.1" fill="#0d0d0d"/>
<circle cx="254.00" cy="502.20" r="2.1" fill="#0d0d0d"/>
<circle cx="261.00" cy="463.10" r="2.1" fill="#0d0d0d"/>
<text x="158.80" y="571.30" font-size="9.5" font-weight="bold" text-anchor="start" fill="#111" stroke="#111" stroke-width="0.22" textLength="53.20" lengthAdjust="spacingAndGlyphs">RITUXIMAB</text>
<line x1="185.00" y1="560.50" x2="185.00" y2="530.88" stroke="#111" stroke-width="2.1"/>
<path d="M185.00 526.80 L182.50 533.60 L185.00 531.70 L187.50 533.60 Z" fill="#111"/>
<text x="57.00" y="458.80" font-size="25" font-weight="bold" text-anchor="start" fill="#111" stroke="#111" stroke-width="0.5" textLength="17.00" lengthAdjust="spacingAndGlyphs">C</text>
<text x="7.80" y="508.40" font-size="9.4" font-weight="bold" text-anchor="middle" fill="#111" stroke="#111" stroke-width="0.22" textLength="148.00" lengthAdjust="spacingAndGlyphs" transform="rotate(-90 7.80 508.40)">Peripheral Blood CD4+ T-cells/μL</text>
<rect x="435.40" y="435.30" width="78.30" height="123.30" fill="#e5e5e5" filter="url(#nz)"/>
<path d="M434 559.3 V527.3 L435.2 526.3 L437.4 533 V559.3 Z" fill="#fff"/>
<line x1="303.00" y1="433.90" x2="515.70" y2="433.90" stroke="#2e2e2e" stroke-width="1.4"/>
<line x1="515.10" y1="433.90" x2="515.10" y2="591.30" stroke="#2a2a2a" stroke-width="1.4"/>
<line x1="303.00" y1="433.40" x2="303.00" y2="591.80" stroke="#1c1c1c" stroke-width="1.3"/>
<line x1="297.00" y1="591.30" x2="515.60" y2="591.30" stroke="#1c1c1c" stroke-width="1.3"/>
<line x1="298.00" y1="591.50" x2="303.00" y2="591.50" stroke="#1c1c1c" stroke-width="1.0"/>
<text x="295.10" y="592.80" font-size="6.7" font-weight="bold" text-anchor="end" fill="#111" stroke="#111" stroke-width="0.3" textLength="3.70" lengthAdjust="spacingAndGlyphs">0</text>
<line x1="298.80" y1="575.50" x2="303.00" y2="575.50" stroke="#1c1c1c" stroke-width="1.0"/>
<line x1="298.00" y1="559.50" x2="303.00" y2="559.50" stroke="#1c1c1c" stroke-width="1.0"/>
<text x="295.10" y="560.90" font-size="6.7" font-weight="bold" text-anchor="end" fill="#111" stroke="#111" stroke-width="0.3" textLength="9.10" lengthAdjust="spacingAndGlyphs">0,2</text>
<line x1="298.80" y1="543.50" x2="303.00" y2="543.50" stroke="#1c1c1c" stroke-width="1.0"/>
<line x1="298.00" y1="527.50" x2="303.00" y2="527.50" stroke="#1c1c1c" stroke-width="1.0"/>
<text x="295.10" y="529.00" font-size="6.7" font-weight="bold" text-anchor="end" fill="#111" stroke="#111" stroke-width="0.3" textLength="9.10" lengthAdjust="spacingAndGlyphs">0,4</text>
<line x1="298.80" y1="511.50" x2="303.00" y2="511.50" stroke="#1c1c1c" stroke-width="1.0"/>
<line x1="298.00" y1="495.50" x2="303.00" y2="495.50" stroke="#1c1c1c" stroke-width="1.0"/>
<text x="295.10" y="497.10" font-size="6.7" font-weight="bold" text-anchor="end" fill="#111" stroke="#111" stroke-width="0.3" textLength="9.10" lengthAdjust="spacingAndGlyphs">0,6</text>
<line x1="298.80" y1="479.50" x2="303.00" y2="479.50" stroke="#1c1c1c" stroke-width="1.0"/>
<line x1="298.00" y1="463.50" x2="303.00" y2="463.50" stroke="#1c1c1c" stroke-width="1.0"/>
<text x="295.10" y="465.20" font-size="6.7" font-weight="bold" text-anchor="end" fill="#111" stroke="#111" stroke-width="0.3" textLength="9.10" lengthAdjust="spacingAndGlyphs">0,8</text>
<line x1="298.80" y1="447.50" x2="303.00" y2="447.50" stroke="#1c1c1c" stroke-width="1.0"/>
<line x1="313.50" y1="591.30" x2="313.50" y2="595.50" stroke="#1c1c1c" stroke-width="1.0"/>
<line x1="331.50" y1="591.30" x2="331.50" y2="595.50" stroke="#1c1c1c" stroke-width="1.0"/>
<line x1="348.50" y1="591.30" x2="348.50" y2="595.50" stroke="#1c1c1c" stroke-width="1.0"/>
<line x1="365.50" y1="591.30" x2="365.50" y2="595.50" stroke="#1c1c1c" stroke-width="1.0"/>
<line x1="383.50" y1="591.30" x2="383.50" y2="595.50" stroke="#1c1c1c" stroke-width="1.0"/>
<line x1="400.50" y1="591.30" x2="400.50" y2="595.50" stroke="#1c1c1c" stroke-width="1.0"/>
<line x1="418.50" y1="591.30" x2="418.50" y2="595.50" stroke="#1c1c1c" stroke-width="1.0"/>
<line x1="435.50" y1="591.30" x2="435.50" y2="595.50" stroke="#1c1c1c" stroke-width="1.0"/>
<line x1="453.50" y1="591.30" x2="453.50" y2="595.50" stroke="#1c1c1c" stroke-width="1.0"/>
<line x1="470.50" y1="591.30" x2="470.50" y2="595.50" stroke="#1c1c1c" stroke-width="1.0"/>
<line x1="488.50" y1="591.30" x2="488.50" y2="595.50" stroke="#1c1c1c" stroke-width="1.0"/>
<line x1="305.50" y1="591.30" x2="305.50" y2="608.50" stroke="#1c1c1c" stroke-width="1.0"/>
<line x1="509.50" y1="591.30" x2="509.50" y2="607.00" stroke="#1c1c1c" stroke-width="1.0"/>
<text x="367.90" y="604.40" font-size="6.8" font-weight="bold" text-anchor="middle" fill="#111" stroke="#111" stroke-width="0.3" textLength="23.20" lengthAdjust="spacingAndGlyphs">15-03-99</text>
<text x="437.90" y="604.30" font-size="6.8" font-weight="bold" text-anchor="middle" fill="#111" stroke="#111" stroke-width="0.3" textLength="23.20" lengthAdjust="spacingAndGlyphs">15-03-00</text>
<text x="488.50" y="604.30" font-size="6.8" font-weight="bold" text-anchor="middle" fill="#111" stroke="#111" stroke-width="0.3" textLength="23.00" lengthAdjust="spacingAndGlyphs">15-12-00</text>
<text x="305.30" y="616.30" font-size="6.8" font-weight="bold" text-anchor="middle" fill="#111" stroke="#111" stroke-width="0.3" textLength="23.80" lengthAdjust="spacingAndGlyphs">05-05-98</text>
<text x="504.00" y="616.30" font-size="6.8" font-weight="bold" text-anchor="middle" fill="#111" stroke="#111" stroke-width="0.3" textLength="22.00" lengthAdjust="spacingAndGlyphs">10-04-01</text>
<polyline points="305.75,547.25 331.25,528.00 341.25,514.25 346.25,524.50 352.00,510.00 358.50,500.25 364.25,525.00 373.75,521.50 378.00,504.25 387.00,502.25 396.20,454.25 410.00,478.00 434.80,496.90 435.70,489.10 438.10,487.20 440.20,490.50 441.20,495.50 449.00,484.80 452.10,487.40 454.70,468.00 456.00,478.00 459.10,490.10 459.90,481.50 462.50,474.90 467.70,490.50 469.40,487.20 471.00,479.40 474.30,487.90 475.70,484.40 477.90,492.20 483.10,491.30 484.00,471.40 486.20,484.80 490.20,477.10 493.70,485.30 497.00,478.40 500.60,479.20 503.50,485.30 509.60,471.40" fill="none" stroke="#2e2e2e" stroke-width="1.0" stroke-linejoin="round"/>
<circle cx="305.75" cy="547.25" r="2.25" fill="#0d0d0d"/>
<circle cx="331.25" cy="528.00" r="2.25" fill="#0d0d0d"/>
<circle cx="341.25" cy="514.25" r="2.25" fill="#0d0d0d"/>
<circle cx="346.25" cy="524.50" r="2.25" fill="#0d0d0d"/>
<circle cx="352.00" cy="510.00" r="2.25" fill="#0d0d0d"/>
<circle cx="358.50" cy="500.25" r="2.25" fill="#0d0d0d"/>
<circle cx="364.25" cy="525.00" r="2.25" fill="#0d0d0d"/>
<circle cx="373.75" cy="521.50" r="2.25" fill="#0d0d0d"/>
<circle cx="378.00" cy="504.25" r="2.25" fill="#0d0d0d"/>
<circle cx="387.00" cy="502.25" r="2.25" fill="#0d0d0d"/>
<circle cx="396.20" cy="454.25" r="2.25" fill="#0d0d0d"/>
<circle cx="410.00" cy="478.00" r="2.25" fill="#0d0d0d"/>
<circle cx="434.80" cy="496.90" r="2.0" fill="#0d0d0d"/>
<circle cx="435.70" cy="489.10" r="2.0" fill="#0d0d0d"/>
<circle cx="438.10" cy="487.20" r="2.0" fill="#0d0d0d"/>
<circle cx="440.20" cy="490.50" r="2.0" fill="#0d0d0d"/>
<circle cx="441.20" cy="495.50" r="2.0" fill="#0d0d0d"/>
<circle cx="449.00" cy="484.80" r="2.0" fill="#0d0d0d"/>
<circle cx="452.10" cy="487.40" r="2.0" fill="#0d0d0d"/>
<circle cx="454.70" cy="468.00" r="2.0" fill="#0d0d0d"/>
<circle cx="456.00" cy="478.00" r="2.0" fill="#0d0d0d"/>
<circle cx="459.10" cy="490.10" r="2.0" fill="#0d0d0d"/>
<circle cx="459.90" cy="481.50" r="2.0" fill="#0d0d0d"/>
<circle cx="462.50" cy="474.90" r="2.0" fill="#0d0d0d"/>
<circle cx="467.70" cy="490.50" r="2.0" fill="#0d0d0d"/>
<circle cx="469.40" cy="487.20" r="2.0" fill="#0d0d0d"/>
<circle cx="471.00" cy="479.40" r="2.0" fill="#0d0d0d"/>
<circle cx="474.30" cy="487.90" r="2.0" fill="#0d0d0d"/>
<circle cx="475.70" cy="484.40" r="2.0" fill="#0d0d0d"/>
<circle cx="477.90" cy="492.20" r="2.0" fill="#0d0d0d"/>
<circle cx="483.10" cy="491.30" r="2.0" fill="#0d0d0d"/>
<circle cx="484.00" cy="471.40" r="2.0" fill="#0d0d0d"/>
<circle cx="486.20" cy="484.80" r="2.0" fill="#0d0d0d"/>
<circle cx="490.20" cy="477.10" r="2.0" fill="#0d0d0d"/>
<circle cx="493.70" cy="485.30" r="2.0" fill="#0d0d0d"/>
<circle cx="497.00" cy="478.40" r="2.0" fill="#0d0d0d"/>
<circle cx="500.60" cy="479.20" r="2.0" fill="#0d0d0d"/>
<circle cx="503.50" cy="485.30" r="2.0" fill="#0d0d0d"/>
<circle cx="509.60" cy="471.40" r="2.0" fill="#0d0d0d"/>
<text x="408.80" y="571.70" font-size="9.5" font-weight="bold" text-anchor="start" fill="#111" stroke="#111" stroke-width="0.22" textLength="53.20" lengthAdjust="spacingAndGlyphs">RITUXIMAB</text>
<line x1="435.00" y1="560.50" x2="435.00" y2="530.68" stroke="#111" stroke-width="2.1"/>
<path d="M435.00 526.60 L432.50 533.40 L435.00 531.50 L437.50 533.40 Z" fill="#111"/>
<text x="309.50" y="458.70" font-size="25" font-weight="bold" text-anchor="start" fill="#111" stroke="#111" stroke-width="0.5" textLength="17.40" lengthAdjust="spacingAndGlyphs">D</text>
<text x="281.20" y="512.20" font-size="9.3" font-weight="bold" text-anchor="middle" fill="#111" stroke="#111" stroke-width="0.22" textLength="99.80" lengthAdjust="spacingAndGlyphs" transform="rotate(-90 281.20 512.20)">CD4+/CD8+ T-cell ratio</text>
<text x="276.80" y="635.70" font-size="9.4" font-weight="bold" text-anchor="middle" fill="#111" stroke="#111" stroke-width="0.22" textLength="22.40" lengthAdjust="spacingAndGlyphs">Days</text>
</svg>
</body></html>
